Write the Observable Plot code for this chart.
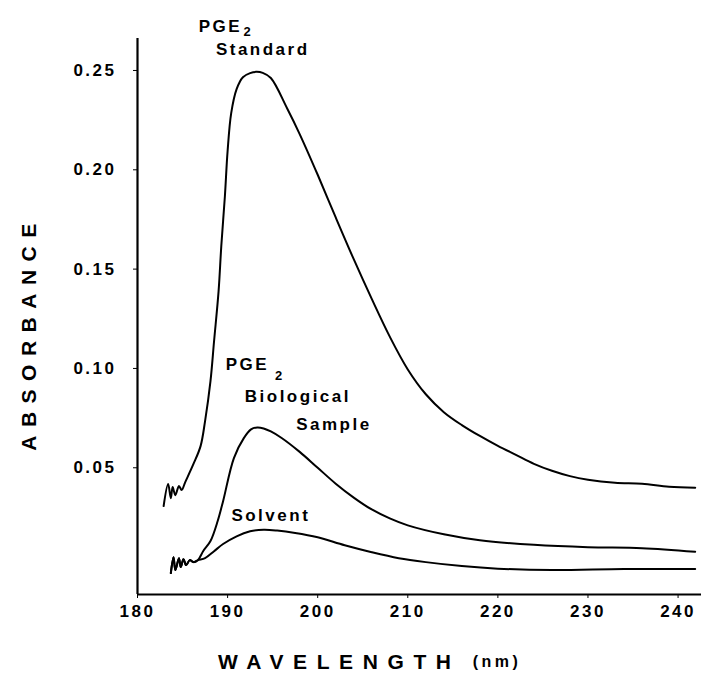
<!DOCTYPE html>
<html><head><meta charset="utf-8">
<script src="https://cdn.jsdelivr.net/npm/d3@7"></script>
<script src="https://cdn.jsdelivr.net/npm/@observablehq/plot@0.6"></script>
<style>
body{margin:0;background:#fff;}
#chart svg text{font-family:"Liberation Sans",Arial,sans-serif;font-weight:bold;fill:#000;letter-spacing:2.5px;}
#chart g[aria-label="annotations"] text{letter-spacing:4.6px;}
#chart g[aria-label="subscripts"] text{letter-spacing:0;}
#chart text.ytitle{letter-spacing:8.5px;}
#chart text.xtitle{letter-spacing:9.6px;}
</style></head><body><div id="chart"></div><script>
const wavelengthTicks = [180, 190, 200, 210, 220, 230, 240];
const absorbanceTicks = [0.05, 0.10, 0.15, 0.20, 0.25];

const standardNm  = [182.9, 183.4, 183.7, 183.9, 184.2, 184.6, 184.9, 185.3, 186.2, 187.0, 187.5, 188.1, 188.5, 189.0, 189.3, 189.7, 190.0, 190.4, 191.0, 191.7, 192.5, 193.2, 193.9, 194.8, 196.6, 198.0, 200.0, 202.0, 204.0, 206.0, 208.0, 210.0, 212.0, 214.0, 216.0, 218.0, 220.0, 222.0, 224.0, 226.0, 228.0, 230.0, 233.0, 236.0, 239.0, 241.9];
const standardAbs = [0.0307, 0.0418, 0.0347, 0.0403, 0.0362, 0.0408, 0.0388, 0.0428, 0.0518, 0.0609, 0.0735, 0.0936, 0.1138, 0.1389, 0.1616, 0.1867, 0.2094, 0.2285, 0.2406, 0.2466, 0.2487, 0.2493, 0.2488, 0.2462, 0.2310, 0.2180, 0.1975, 0.1760, 0.1550, 0.1350, 0.1160, 0.0995, 0.0870, 0.0780, 0.0715, 0.0660, 0.0610, 0.0565, 0.0520, 0.0485, 0.0458, 0.0440, 0.0425, 0.0420, 0.0405, 0.0400];

const biologicalNm  = [183.7, 184.0, 184.2, 184.6, 184.8, 185.1, 185.4, 185.8, 186.2, 186.7, 187.3, 188.1, 188.9, 189.5, 190.7, 191.8, 192.6, 193.3, 194.0, 194.8, 196.0, 198.0, 200.0, 202.0, 204.0, 206.0, 208.0, 210.0, 214.0, 218.0, 224.0, 230.0, 236.0, 241.9];
const biologicalAbs = [-0.0030, 0.0050, -0.0015, 0.0045, 0.0000, 0.0040, 0.0010, 0.0035, 0.0025, 0.0035, 0.0081, 0.0131, 0.0232, 0.0332, 0.0549, 0.0649, 0.0693, 0.0703, 0.0698, 0.0683, 0.0650, 0.0580, 0.0500, 0.0420, 0.0350, 0.0290, 0.0245, 0.0210, 0.0165, 0.0135, 0.0112, 0.0100, 0.0095, 0.0077];

const solventNm  = [183.7, 184.0, 184.2, 184.6, 184.8, 185.1, 185.4, 185.8, 186.2, 186.7, 187.5, 188.5, 189.5, 191.0, 192.5, 194.0, 195.5, 197.5, 200.0, 203.0, 206.0, 209.0, 212.0, 216.0, 220.0, 226.0, 234.0, 241.9];
const solventAbs = [-0.0030, 0.0050, -0.0015, 0.0045, 0.0000, 0.0040, 0.0010, 0.0035, 0.0025, 0.0035, 0.0045, 0.0080, 0.0116, 0.0155, 0.0180, 0.0188, 0.0184, 0.0172, 0.0150, 0.0110, 0.0075, 0.0045, 0.0025, 0.0005, -0.0008, -0.0015, -0.0010, -0.0010];

const labelTexts = ["PGE", "Standard", "PGE", "Biological", "Sample", "Solvent"];
const labelNm    = [189.2, 193.9, 192.2, 197.8, 201.8, 194.8];
const labelAbs   = [0.2723, 0.2607, 0.1022, 0.0861, 0.0720, 0.0257];
const subTexts = ["2", "2"];
const subNm    = [192.3, 195.8];
const subAbs   = [0.2693, 0.0964];

const toRows = (xs, ys) => xs.map((x, i) => ({x, y: ys[i]}));
const standard = toRows(standardNm, standardAbs);
const biological = toRows(biologicalNm, biologicalAbs);
const solvent = toRows(solventNm, solventAbs);
const labels = labelTexts.map((t, i) => ({text: t, x: labelNm[i], y: labelAbs[i]}));
const subs = subTexts.map((t, i) => ({text: t, x: subNm[i], y: subAbs[i]}));

const yMin = -0.0138, yMax = 0.2661;
const plot = Plot.plot({
  width: 701, height: 676,
  marginTop: 38, marginBottom: 82, marginLeft: 137, marginRight: 0,
  style: {background: "white", color: "black", fontSize: "17px"},
  x: {domain: [180, 242.6]},
  y: {domain: [yMin, yMax]},
  marks: [
    Plot.axisX({ticks: wavelengthTicks, tickSize: 4, tickPadding: 6, label: null, fontSize: 17}),
    Plot.axisY({ticks: absorbanceTicks, tickFormat: d => d.toFixed(2), tickSize: 4, tickPadding: 17, label: null, fontSize: 17}),
    Plot.ruleX([180], {strokeWidth: 2.2}),
    Plot.ruleY([yMin], {strokeWidth: 2.2}),
    Plot.line(standard, {x: "x", y: "y", strokeWidth: 2, curve: "catmull-rom"}),
    Plot.line(biological, {x: "x", y: "y", strokeWidth: 2, curve: "catmull-rom"}),
    Plot.line(solvent, {x: "x", y: "y", strokeWidth: 2, curve: "catmull-rom"}),
    Plot.text(labels, {x: "x", y: "y", text: "text", fontSize: 17, fontWeight: "bold", ariaLabel: "annotations"}),
    Plot.text(subs, {x: "x", y: "y", text: "text", fontSize: 13, fontWeight: "bold", ariaLabel: "subscripts"})
  ]
});
const svg = d3.select(plot);
svg.append("text").attr("class", "ytitle")
  .attr("transform", "translate(28,333) rotate(-90)")
  .attr("text-anchor", "middle").attr("dominant-baseline", "central")
  .attr("font-size", 21).text("ABSORBANCE");
const xt = svg.append("text").attr("class", "xtitle")
  .attr("x", 218).attr("y", 661).attr("text-anchor", "start")
  .attr("dominant-baseline", "central").attr("font-size", 21);
xt.append("tspan").text("WAVELENGTH");
xt.append("tspan").attr("dx", 12).attr("font-size", 16).style("letter-spacing", "3.5px").text("(nm)");
document.getElementById("chart").appendChild(plot);
</script></body></html>
